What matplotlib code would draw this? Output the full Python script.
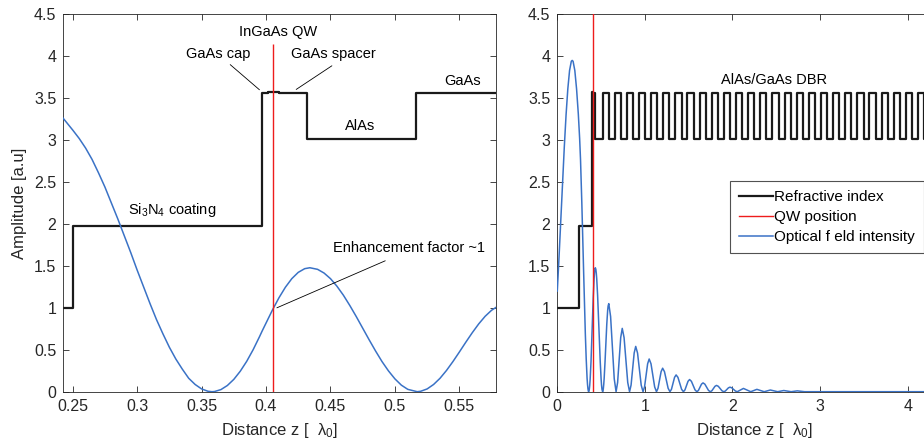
import matplotlib
matplotlib.use("Agg")
import matplotlib.pyplot as plt

# Layer structure (left edge of each layer, refractive index)
layer_edges = [0.0, 0.2505, 0.3967, 0.4014, 0.4104, 0.4321, 0.5167]
layer_index = [1.0, 1.98, 3.56, 3.575, 3.56, 3.01]
# DBR pair after the AlAs layer: GaAs then AlAs
dbr_thickness = [0.0704, 0.0681]
dbr_index = [3.56, 3.01]
n_pairs = 30

qw_pos = 0.4055

# Optical field intensity
field_z = [
    0.00, 0.02, 0.04, 0.06, 0.08, 0.10, 0.12, 0.14, 0.16, 0.17, 0.18, 0.20, 0.22, 0.24, 0.245, 0.25,
    0.255, 0.26, 0.265, 0.27, 0.275, 0.28, 0.285, 0.29, 0.295, 0.30, 0.305, 0.31, 0.315, 0.32,
    0.325, 0.33, 0.335, 0.34, 0.345, 0.35, 0.355, 0.358, 0.36, 0.365, 0.37, 0.375, 0.38, 0.385,
    0.39, 0.395, 0.397,
    0.40, 0.405, 0.41, 0.415, 0.42, 0.425, 0.43, 0.434,
    0.44, 0.445, 0.45, 0.455, 0.46, 0.465, 0.47, 0.475, 0.48, 0.485, 0.49, 0.495, 0.50, 0.505, 0.51, 0.5173,
    0.52, 0.525, 0.53, 0.535, 0.54, 0.545, 0.55, 0.555, 0.56, 0.565, 0.57, 0.575, 0.58, 0.5875,
    0.6084, 0.6293, 0.6501, 0.671,
    0.6885, 0.7062, 0.7238, 0.7414, 0.7623, 0.7832, 0.804, 0.8249,
    0.8422, 0.8599, 0.8775, 0.8951, 0.916, 0.9369, 0.9577, 0.9786,
    0.9959, 1.0136, 1.0312, 1.0488, 1.0697, 1.0906, 1.1114, 1.1323,
    1.1496, 1.1673, 1.1849, 1.2025, 1.2234, 1.2443, 1.2651, 1.286,
    1.3033, 1.321, 1.3386, 1.3562, 1.3771, 1.398, 1.4188, 1.4397,
    1.457, 1.4747, 1.4923, 1.5099, 1.5308, 1.5517, 1.5725, 1.5934,
    1.6107, 1.6284, 1.646, 1.6636, 1.6845, 1.7054, 1.7262, 1.7471,
    1.7644, 1.7821, 1.7997, 1.8173, 1.8382, 1.8591, 1.8799, 1.9008,
    1.9181, 1.9358, 1.9534, 1.971, 1.9919, 2.0128, 2.0336, 2.0545,
    2.0894, 2.1247, 2.1665, 2.2082,
    2.2432, 2.2784, 2.3202, 2.3619,
    2.3969, 2.4321, 2.4739, 2.5156,
    2.5506, 2.5858, 2.6276, 2.6693,
    2.7043, 2.7395, 2.7813, 2.823,
    4.6,
]
field_I = [
    1.20, 1.61, 2.05, 2.50, 2.92, 3.30, 3.61, 3.83, 3.94, 3.95, 3.94, 3.83, 3.61, 3.31, 3.215, 3.12,
    3.02, 2.905, 2.77, 2.61, 2.44, 2.25, 2.06, 1.86, 1.66, 1.45, 1.25, 1.05, 0.86, 0.69,
    0.53, 0.39, 0.27, 0.16, 0.086, 0.033, 0.005, 0.0, 0.002, 0.025, 0.074, 0.147, 0.244, 0.362,
    0.501, 0.658, 0.724,
    0.818, 0.975, 1.119, 1.245, 1.348, 1.423, 1.467, 1.478,
    1.459, 1.415, 1.348, 1.258, 1.151, 1.028, 0.896, 0.758, 0.619, 0.485, 0.359, 0.248, 0.153, 0.078, 0.028, 0.0,
    0.005, 0.033, 0.086, 0.160, 0.253, 0.359, 0.473, 0.590, 0.703, 0.808, 0.899, 0.971, 1.021, 1.05,
    0.897, 0.525, 0.153, 0.0,
    0.110, 0.378, 0.645, 0.755, 0.645, 0.378, 0.110, 0.0,
    0.079, 0.27, 0.461, 0.54, 0.461, 0.27, 0.079, 0.0,
    0.057, 0.195, 0.333, 0.39, 0.333, 0.195, 0.057, 0.0,
    0.041, 0.14, 0.239, 0.28, 0.239, 0.14, 0.041, 0.0,
    0.029, 0.10, 0.171, 0.20, 0.171, 0.10, 0.029, 0.0,
    0.021, 0.073, 0.124, 0.145, 0.124, 0.073, 0.021, 0.0,
    0.015, 0.053, 0.09, 0.105, 0.09, 0.053, 0.015, 0.0,
    0.011, 0.038, 0.064, 0.075, 0.064, 0.038, 0.011, 0.0,
    0.008, 0.027, 0.046, 0.054, 0.046, 0.027, 0.008, 0.0,
    0.02, 0.039, 0.02, 0.0,
    0.014, 0.028, 0.014, 0.0,
    0.01, 0.02, 0.01, 0.0,
    0.007, 0.014, 0.007, 0.0,
    0.005, 0.01, 0.005, 0.0,
    0.0,
]

left_xticks = [0.25, 0.3, 0.35, 0.4, 0.45, 0.5, 0.55]
left_xlabels = ["0.25", "0.3", "0.35", "0.4", "0.45", "0.5", "0.55"]
right_xticks = [0, 1, 2, 3, 4]
right_xlabels = ["0", "1", "2", "3", "4"]
yticks = [0, 0.5, 1, 1.5, 2, 2.5, 3, 3.5, 4, 4.5]
ylabels = ["0", "0.5", "1", "1.5", "2", "2.5", "3", "3.5", "4", "4.5"]

# build the step profile
edges = list(layer_edges)
index = list(layer_index)
z = layer_edges[-1]
for i in range(n_pairs):
    for t, n in zip(dbr_thickness, dbr_index):
        index.append(n)
        z += t
        edges.append(z)
index_steps = index + [index[-1]]

plt.rcParams["font.family"] = ["Liberation Sans", "DejaVu Sans"]
plt.rcParams["mathtext.fontset"] = "custom"
plt.rcParams["mathtext.rm"] = "Liberation Sans"
plt.rcParams["mathtext.default"] = "regular"

grey = "#262626"
blue = "#3A72C6"
black = "#1a1a1a"

fig = plt.figure(figsize=(9.24, 4.48), dpi=100)
ax1 = fig.add_axes([63.3 / 924, 1 - 391.7 / 448, 432.4 / 924, 377.4 / 448])
ax2 = fig.add_axes([557.3 / 924, 1 - 391.7 / 448, 394.2 / 924, 377.4 / 448])

for ax in (ax1, ax2):
    ax.step(edges, index_steps, where="post", color=black, lw=1.6, label="Refractive index")
    ax.plot(field_z, field_I, color=blue, lw=1.1, label="Optical f eld intensity", zorder=3)
    ax.set_ylim(0, 4.5)
    ax.set_yticks(yticks)
    ax.set_yticklabels(ylabels)
    ax.tick_params(direction="in", top=True, right=True, length=4, width=0.6,
                   colors=grey, labelsize=11.5, pad=5)
    for s in ax.spines.values():
        s.set_color(grey)
        s.set_linewidth(0.6)
    ax.set_xlabel("Distance z [  λ$_0$]", fontsize=12, color=grey, labelpad=5)

# left panel: zoom on the top layers
ax1.vlines(qw_pos, 0, 4.15, color="#ee1c1c", lw=1.0, zorder=4)
ax1.set_xlim(0.2427, 0.5782)
ax1.set_xticks(left_xticks)
ax1.set_xticklabels(left_xlabels)
ax1.set_ylabel("Amplitude [a.u]", fontsize=12, color=grey, labelpad=5)

txt = dict(fontsize=10.5, color="black", ha="center", va="center")
line = dict(arrowstyle="-", lw=0.6, color="black", shrinkA=0, shrinkB=0)
ax1.text(0.4096, 4.29, "InGaAs QW", **txt)
ax1.text(0.3631, 4.03, "GaAs cap", **txt)
ax1.annotate("", xy=(0.3949, 3.60), xytext=(0.3722, 3.90), arrowprops=line)
ax1.text(0.4523, 4.03, "GaAs spacer", **txt)
ax1.annotate("", xy=(0.4234, 3.604), xytext=(0.4511, 3.886), arrowprops=line)
ax1.text(0.5525, 3.71, "GaAs", **txt)
ax1.text(0.4731, 3.17, "AlAs", **txt)
ax1.text(0.3269, 2.17, "Si$_3$N$_4$ coating", **txt)
ax1.text(0.5111, 1.71, "Enhancement factor ~1", **txt)
ax1.annotate("", xy=(0.4084, 1.0), xytext=(0.4925, 1.561), arrowprops=line)

# right panel: whole structure
ax2.axvline(qw_pos, color="#ee1c1c", lw=1.0, zorder=4, label="QW position")
ax2.set_xlim(0, 4.5)
ax2.set_xticks(right_xticks)
ax2.set_xticklabels(right_xlabels)
ax2.text(2.474, 3.72, "AlAs/GaAs DBR", **txt)

handles, labels = ax2.get_legend_handles_labels()
order = [labels.index("Refractive index"), labels.index("QW position"),
         labels.index("Optical f eld intensity")]
leg = ax2.legend([handles[i] for i in order], [labels[i] for i in order],
                 loc="upper left", bbox_to_anchor=(730 / 924, 1 - 180.7 / 448),
                 bbox_transform=fig.transFigure, fontsize=11, frameon=True,
                 fancybox=False, borderaxespad=0, handlelength=2.2,
                 handletextpad=0.1, labelspacing=0.4, borderpad=0.6)
leg.get_frame().set_edgecolor(grey)
leg.get_frame().set_linewidth(0.8)

fig.savefig("out.png", dpi=100)
